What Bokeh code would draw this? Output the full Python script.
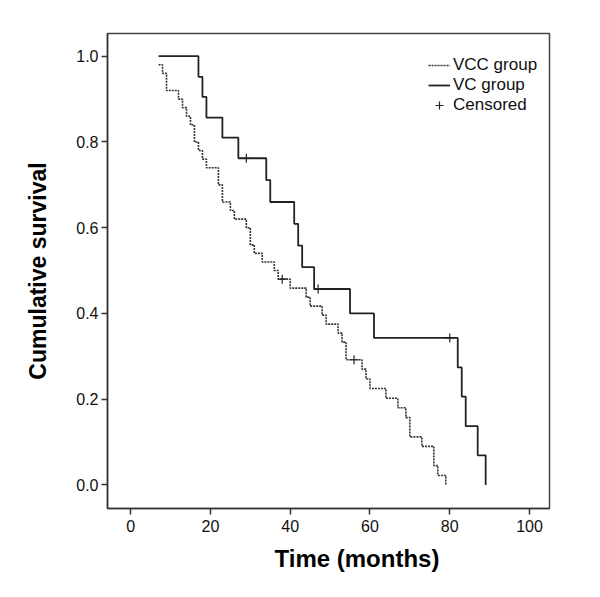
from bokeh.plotting import figure
from bokeh.models import (Range1d, Legend, LegendItem, FixedTicker, PrintfTickFormatter,
                          ColumnDataSource, Title)
from bokeh.embed import file_html
from bokeh.resources import INLINE

# ---- data ----
vcc_time = [7, 8, 9, 12, 13, 14, 15, 16, 17, 18, 19, 22, 23, 25, 26, 29, 30, 31, 33, 36,
            37, 40, 44, 45, 48, 49, 52, 53, 54, 58, 59, 60, 64, 67, 69, 70, 73, 76, 77, 79]
vcc_surv = [0.98, 0.96, 0.92, 0.90, 0.88, 0.86, 0.84, 0.80, 0.78, 0.76, 0.74, 0.70, 0.66, 0.64,
            0.62, 0.60, 0.56, 0.54, 0.52, 0.50, 0.48, 0.459, 0.438, 0.417, 0.396, 0.375, 0.354,
            0.333, 0.292, 0.270, 0.247, 0.225, 0.202, 0.180, 0.157, 0.112, 0.090, 0.045, 0.022, 0.0]
vcc_cens_time = [38, 56]
vcc_cens_surv = [0.48, 0.292]

vc_time = [7, 17, 18, 19, 23, 27, 34, 35, 41, 42, 43, 46, 55, 61, 82, 83, 84, 87, 89]
vc_surv = [1.0, 0.952, 0.905, 0.857, 0.810, 0.762, 0.711, 0.660, 0.609, 0.558, 0.508, 0.457,
           0.400, 0.343, 0.274, 0.206, 0.137, 0.069, 0.0]
vc_cens_time = [29, 47, 80]
vc_cens_surv = [0.762, 0.457, 0.343]

x_ticks = [0, 20, 40, 60, 80, 100]
y_ticks = [0.0, 0.2, 0.4, 0.6, 0.8, 1.0]
series_labels = ["VCC group", "VC group", "Censored"]
x_title = "Time (months)"
y_title = "Cumulative survival"

FONT = "Liberation Sans"
INK = "#111111"

p = figure(width=584, height=581, output_backend="svg", toolbar_location=None,
           x_range=Range1d(-5.8, 105), y_range=Range1d(-0.055, 1.053),
           min_border_left=107, min_border_right=35, min_border_top=33, min_border_bottom=73)
p.background_fill_color = "white"
p.border_fill_color = "white"
p.outline_line_color = "#444444"
p.outline_line_width = 1.5
p.xgrid.visible = False
p.ygrid.visible = False

for ax in (p.xaxis[0], p.yaxis[0]):
    ax.axis_line_color = "#333333"
    ax.axis_line_width = 1.5
    ax.major_tick_line_color = "#333333"
    ax.major_tick_line_width = 1.5
    ax.major_tick_out = 6
    ax.major_tick_in = 0
    ax.minor_tick_line_color = None
    ax.major_label_text_font = FONT
    ax.major_label_text_font_size = "16px"
    ax.major_label_text_color = INK
    ax.axis_label_text_font = FONT
    ax.axis_label_text_font_size = "23px"
    ax.axis_label_text_font_style = "bold"
    ax.axis_label_text_color = "#000000"

p.xaxis[0].ticker = FixedTicker(ticks=x_ticks)
p.yaxis[0].ticker = FixedTicker(ticks=y_ticks)
p.yaxis[0].formatter = PrintfTickFormatter(format="%.1f")
p.yaxis[0].axis_label = y_title
p.xaxis[0].major_label_standoff = 5
p.yaxis[0].major_label_standoff = 3
p.yaxis[0].axis_label_standoff = 22

# x-axis title, shifted right as in the reference
p.add_layout(Title(text=x_title, align="left", offset=167, standoff=16,
                   text_font=FONT, text_font_size="24px", text_font_style="bold",
                   text_color="#000000"), "below")

vcc_src = ColumnDataSource(dict(t=vcc_time, s=vcc_surv))
vc_src = ColumnDataSource(dict(t=vc_time, s=vc_surv))
cens_src = ColumnDataSource(dict(t=vcc_cens_time + vc_cens_time, s=vcc_cens_surv + vc_cens_surv))

r_vcc = p.step("t", "s", source=vcc_src, mode="after", line_color="#333333",
               line_width=1.6, line_dash="2 1")
r_vc = p.step("t", "s", source=vc_src, mode="after", line_color="#222222", line_width=1.8)
r_cens = p.scatter("t", "s", source=cens_src, marker="cross", size=9,
                   line_color="#222222", line_width=1.2)

legend = Legend(items=[LegendItem(label=series_labels[0], renderers=[r_vcc]),
                       LegendItem(label=series_labels[1], renderers=[r_vc]),
                       LegendItem(label=series_labels[2], renderers=[r_cens])],
                location=(321, 393))
legend.padding = 0
legend.margin = 0
legend.spacing = 0
legend.glyph_width = 22
legend.glyph_height = 20
legend.label_height = 20
legend.label_standoff = 3
legend.label_text_font = FONT
legend.label_text_font_size = "17px"
legend.label_text_color = INK
legend.border_line_alpha = 0
legend.background_fill_alpha = 0
p.add_layout(legend, "center")

open("out.html", "w").write(file_html(p, INLINE))
